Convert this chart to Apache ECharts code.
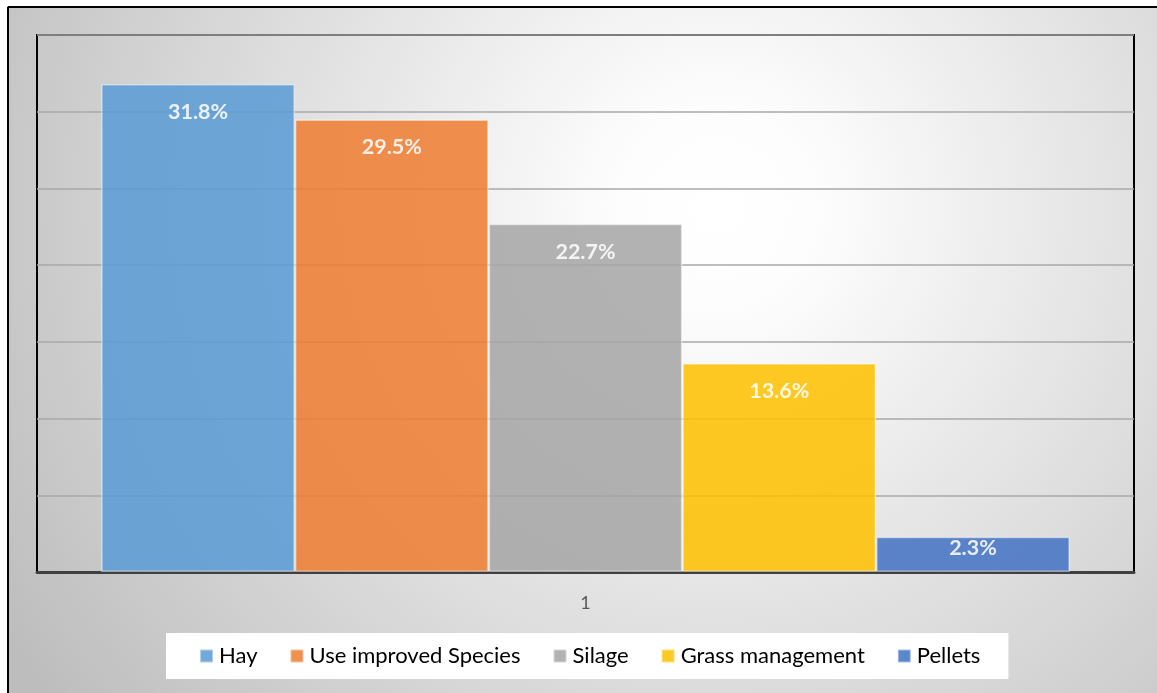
<!DOCTYPE html>
<html>
<head>
<meta charset="utf-8">
<title>Feeding practices</title>
<script src="https://cdn.jsdelivr.net/npm/echarts@6/dist/echarts.min.js"></script>
<style>
  html, body { margin: 0; padding: 0; background: #fff; }
  #chart { width: 1157px; height: 693px; }
</style>
</head>
<body>
<div id="chart"></div>
<script>
// Share of respondents by practice (single category "1")
const categories = ['1'];
const seriesNames = ['Hay', 'Use improved Species', 'Silage', 'Grass management', 'Pellets'];
const seriesValues = [31.8, 29.5, 22.7, 13.6, 2.3];
const seriesColors = ['#5b9bd5', '#ed7d31', '#a5a5a5', '#ffc000', '#4472c4'];
const yTicks = { min: 0, max: 35, interval: 5 };

const chart = echarts.init(document.getElementById('chart'), null, { renderer: 'canvas' });

const series = seriesNames.map((name, i) => ({
  name: name,
  type: 'bar',
  data: [seriesValues[i]],
  barGap: '0%',
  barCategoryGap: '11.7%',
  itemStyle: {
    color: seriesColors[i],
    opacity: 0.86,
    borderColor: 'rgba(255,255,255,0.55)',
    borderWidth: 1.5
  },
  label: {
    show: true,
    position: 'insideTop',
    distance: seriesValues[i] < 5 ? 0 : 17,
    color: '#ffffff',
    fontFamily: 'Lato',
    fontWeight: 'bold',
    fontSize: 21.5,
    formatter: p => p.value.toFixed(1) + '%'
  }
}));

chart.setOption({
  animation: false,
  backgroundColor: {
    type: 'radial', x: 0.62, y: 0.3, r: 1.2,
    colorStops: [
      { offset: 0, color: '#ffffff' },
      { offset: 0.12, color: '#fdfdfd' },
      { offset: 1, color: '#bdbdbd' }
    ]
  },
  textStyle: { fontFamily: 'Lato' },
  grid: {
    left: 37, top: 35, right: 23, bottom: 121,
    show: true,
    borderColor: '#000000',
    borderWidth: 2,
    containLabel: false
  },
  xAxis: {
    type: 'category',
    data: categories,
    axisLine: { show: true, lineStyle: { color: '#404040', width: 3 } },
    axisTick: { show: false },
    axisLabel: { color: '#595959', fontSize: 18, margin: 22, fontFamily: 'Lato' }
  },
  yAxis: {
    type: 'value',
    min: yTicks.min, max: yTicks.max, interval: yTicks.interval,
    axisLabel: { show: false },
    axisLine: { show: false },
    axisTick: { show: false },
    splitLine: { lineStyle: { color: '#a8a8a8', width: 1.5 } }
  },
  legend: {
    bottom: 14,
    left: 166,
    padding: [12, 28, 12, 33],
    backgroundColor: '#ffffff',
    itemWidth: 13,
    itemHeight: 13,
    itemGap: 32,
    icon: 'rect',
    textStyle: { fontFamily: 'Lato', fontSize: 22, color: '#000000', padding: [0, 0, 0, 1] },
    data: seriesNames
  },
  graphic: [
    { type: 'rect', shape: { x: 0, y: 0, width: 1157, height: 6 }, style: { fill: '#ffffff' }, silent: true },
    { type: 'rect', shape: { x: 0, y: 0, width: 7, height: 693 }, style: { fill: '#ffffff' }, silent: true },
    { type: 'line', shape: { x1: 8, y1: 7, x2: 1157, y2: 7 }, style: { stroke: '#000000', lineWidth: 2 }, silent: true },
    { type: 'line', shape: { x1: 8, y1: 7, x2: 8, y2: 693 }, style: { stroke: '#000000', lineWidth: 2 }, silent: true }
  ],
  series: series
});
</script>
</body>
</html>
